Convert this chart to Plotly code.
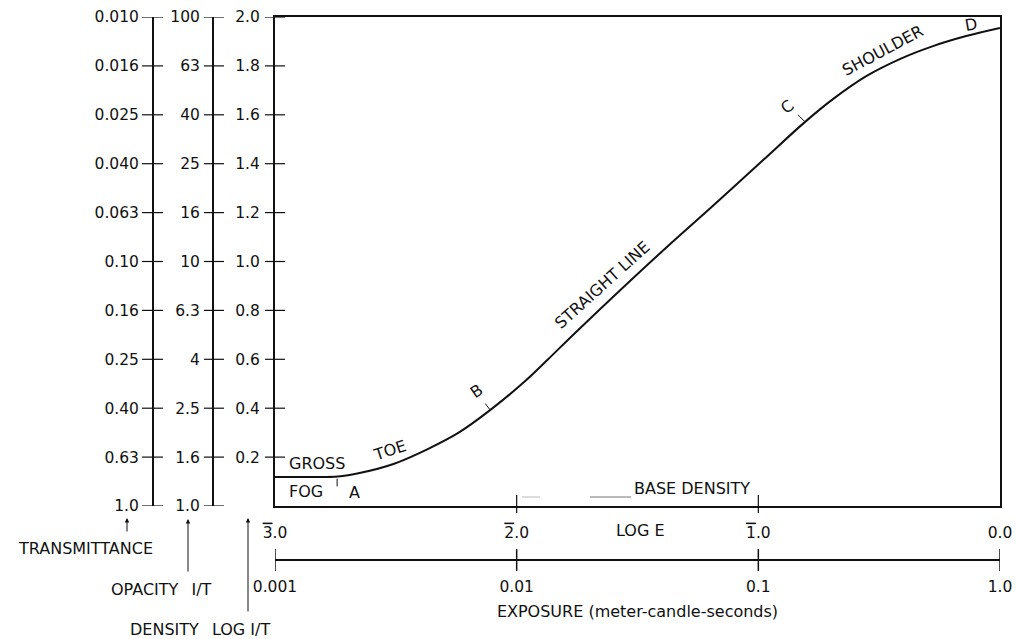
import math
import plotly.graph_objects as go

# ---------------- data ----------------
log_e = [-3.0, -2.86, -2.74, -2.65, -2.51, -2.37, -2.24, -2.11, -1.96, -1.87, -1.74,
         -1.40, -1.19, -0.98, -0.81, -0.69, -0.55, -0.41, -0.28, -0.14, 0.0]
density = [0.119, 0.119, 0.121, 0.135, 0.172, 0.232, 0.300, 0.392, 0.515, 0.600, 0.725,
           1.040, 1.226, 1.415, 1.568, 1.665, 1.760, 1.830, 1.880, 1.922, 1.955]

density_ticks = [2.0, 1.8, 1.6, 1.4, 1.2, 1.0, 0.8, 0.6, 0.4, 0.2, 0.0]
density_labels = ["2.0", "1.8", "1.6", "1.4", "1.2", "1.0", "0.8", "0.6", "0.4", "0.2", ""]
transmittance_labels = ["0.010", "0.016", "0.025", "0.040", "0.063", "0.10", "0.16",
                        "0.25", "0.40", "0.63", "1.0"]
opacity_labels = ["100", "63", "40", "25", "16", "10", "6.3", "4", "2.5", "1.6", "1.0"]

loge_ticks = [-3, -2, -1, 0]
loge_labels = ['<span style="text-decoration:overline">3</span>.0',
               '<span style="text-decoration:overline">2</span>.0',
               '<span style="text-decoration:overline">1</span>.0',
               "0.0"]
exposure_ticks = [0.001, 0.01, 0.1, 1.0]
exposure_labels = ["0.001", "0.01", "0.1", "1.0"]

# curve region labels: (text, logE, density, angle)
region_labels = [
    ("GROSS", -2.826, 0.172, 0),
    ("FOG", -2.872, 0.061, 0),
    ("A", -2.673, 0.057, 0),
    ("TOE", -2.528, 0.228, -18),
    ("B", -2.168, 0.470, -35),
    ("STRAIGHT LINE", -1.643, 0.904, -42),
    ("C", -0.878, 1.632, -40),
    ("SHOULDER", -0.485, 1.865, -28),
    ("D", -0.120, 1.971, -10),
    ("BASE DENSITY", -1.275, 0.070, 0),
]
# small marks on the curve: (logE0, D0, logE1, D1)
curve_marks = [
    (-2.743, 0.112, -2.743, 0.080),
    (-2.110, 0.393, -2.130, 0.419),
    (-0.807, 1.571, -0.836, 1.600),
]

# ---------------- layout helpers ----------------
W, H = 1016, 639
ML, MR, MT, MB = 0, 16, 17, 0
PW, PH = W - ML - MR, H - MT - MB


def px(x):
    return (x - ML) / PW


def py(y):
    return (H - MB - y) / PH


FONT = "DejaVu Sans"
FS = 15.5
FS_T = 16
BLACK = "#111111"

fig = go.Figure()

# characteristic curve
fig.add_trace(go.Scatter(x=log_e, y=density, mode="lines",
                         line=dict(color=BLACK, width=2, shape="spline", smoothing=1.0),
                         hoverinfo="skip", showlegend=False))
# helper (invisible) traces so that the extra axes are drawn
fig.add_trace(go.Scatter(x=[log_e[0]], y=[density[0]], yaxis="y2", mode="markers",
                         marker=dict(opacity=0), hoverinfo="skip", showlegend=False))
fig.add_trace(go.Scatter(x=[log_e[0]], y=[density[0]], yaxis="y3", mode="markers",
                         marker=dict(opacity=0), hoverinfo="skip", showlegend=False))
fig.add_trace(go.Scatter(x=[exposure_ticks[0]], y=[density[0]], xaxis="x2", mode="markers",
                         marker=dict(opacity=0), hoverinfo="skip", showlegend=False))

tickfont = dict(family=FONT, size=FS, color=BLACK)
x_dom = [px(275), px(1000)]
y_dom = [py(506), 1.0]
common = dict(showgrid=False, zeroline=False, automargin=False, fixedrange=True,
              linecolor=BLACK, tickfont=tickfont)

fig.update_layout(
    template="none",
    width=W, height=H,
    margin=dict(l=ML, r=MR, t=MT, b=MB, pad=0, autoexpand=False),
    paper_bgcolor="white", plot_bgcolor="white",
    showlegend=False,
    font=dict(family=FONT, size=FS, color=BLACK),
    xaxis=dict(domain=x_dom, range=[-3, 0], showline=True, mirror=True, linewidth=2,
               tickvals=loge_ticks, ticktext=loge_labels, ticks="", ticklabelstandoff=11,
               **common),
    yaxis=dict(domain=y_dom, range=[0, 2], showline=True, mirror=True, linewidth=2,
               tickvals=density_ticks, ticktext=density_labels, ticks="",
               ticklabelstandoff=10, **common),
    yaxis2=dict(overlaying="y", anchor="free", position=px(153), side="left", range=[0, 2],
                showline=True, linewidth=2, tickvals=density_ticks,
                ticktext=transmittance_labels, ticks="", ticklabelstandoff=10, **common),
    yaxis3=dict(overlaying="y", anchor="free", position=px(213), side="left", range=[0, 2],
                showline=True, linewidth=2, tickvals=density_ticks, ticktext=opacity_labels,
                ticks="", ticklabelstandoff=9, **common),
    xaxis2=dict(overlaying="x", anchor="free", position=py(560), side="bottom", type="log",
                range=[-3, 0], showline=True, linewidth=2, tickvals=exposure_ticks,
                ticktext=exposure_labels, ticks="", ticklabelstandoff=12,
                title=dict(text="EXPOSURE (meter-candle-seconds)",
                           font=dict(family=FONT, size=FS_T, color=BLACK), standoff=10),
                **common),
)

shapes = []
# crossing tick marks on the three vertical scales
for d in density_ticks:
    shapes.append(dict(type="line", xref="paper", yref="y", x0=px(142), x1=px(163), y0=d, y1=d,
                       line=dict(color=BLACK, width=1.2)))
    shapes.append(dict(type="line", xref="paper", yref="y", x0=px(204), x1=px(224), y0=d, y1=d,
                       line=dict(color=BLACK, width=1.2)))
for d, lab in zip(density_ticks, density_labels):
    if lab:
        shapes.append(dict(type="line", xref="paper", yref="y", x0=px(265), x1=px(285), y0=d,
                           y1=d, line=dict(color=BLACK, width=1.2)))
# log E ticks crossing the bottom of the frame
for t in loge_ticks[1:-1]:
    shapes.append(dict(type="line", xref="x", yref="paper", x0=t, x1=t, y0=py(513), y1=py(495),
                       line=dict(color=BLACK, width=1.2)))
# exposure scale ticks
for e in exposure_ticks:
    lx = math.log10(e)
    shapes.append(dict(type="line", xref="x", yref="paper", x0=lx, x1=lx, y0=py(571), y1=py(549),
                       line=dict(color=BLACK, width=1.5)))
# marks A, B, C on the curve
for x0, y0, x1, y1 in curve_marks:
    shapes.append(dict(type="line", xref="x", yref="y", x0=x0, y0=y0, x1=x1, y1=y1,
                       line=dict(color=BLACK, width=1)))
# faint base density leader
shapes.append(dict(type="line", xref="paper", yref="paper", x0=px(522), x1=px(540),
                   y0=py(497), y1=py(497), line=dict(color="#bbbbbb", width=1)))
shapes.append(dict(type="line", xref="paper", yref="paper", x0=px(590), x1=px(631),
                   y0=py(497), y1=py(497), line=dict(color="#777777", width=1)))
fig.update_layout(shapes=shapes)

ann = []
for text, x, y, ang in region_labels:
    ann.append(dict(text=text, x=x, y=y, xref="x", yref="y", showarrow=False, textangle=ang,
                    xanchor="center", yanchor="middle",
                    font=dict(family=FONT, size=FS_T, color=BLACK)))

ann.append(dict(text="LOG E", x=px(640), y=py(530), xref="paper", yref="paper",
                showarrow=False, xanchor="center", yanchor="middle",
                font=dict(family=FONT, size=FS_T, color=BLACK)))

# scale names with arrows
for text, tx, ty, ax_x, tip_y, tail_y in [
    ("TRANSMITTANCE", 85, 548, 127, 518, 533),
    ("OPACITY\u2002 I/T", 161, 589, 188, 519, 573),
    ("DENSITY\u2002 LOG I/T", 200, 629, 248, 518, 613),
]:
    ann.append(dict(text=text, x=px(tx), y=py(ty), xref="paper", yref="paper",
                    showarrow=False, xanchor="center", yanchor="middle",
                    font=dict(family=FONT, size=FS_T, color=BLACK)))
    ann.append(dict(text="", x=px(ax_x), y=py(tip_y), xref="paper", yref="paper",
                    showarrow=True, ax=0, ay=tail_y - tip_y, axref="pixel", ayref="pixel",
                    arrowhead=2, arrowsize=0.9, arrowwidth=1, arrowcolor=BLACK))
fig.update_layout(annotations=ann)

fig.write_html("out.html", config={"displayModeBar": False},
               post_script="document.body.style.margin='0';")
